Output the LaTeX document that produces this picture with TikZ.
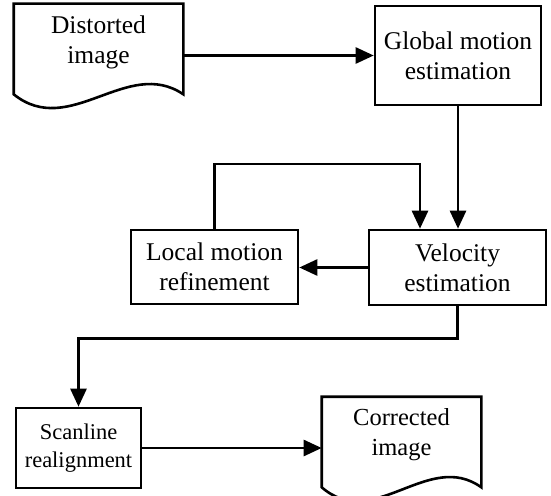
\documentclass[tikz,border=0pt]{standalone}
\usepackage{fontspec}
\setmainfont{Liberation Serif}
\usetikzlibrary{arrows.meta,calc}
\begin{document}
\begin{tikzpicture}[x=1pt,y=1pt,
  line width=2.6pt,
  boxnode/.style={draw, rectangle, inner sep=0pt, align=center, font=\fontsize{25.5pt}{30pt}\selectfont},
  docnode/.style={rectangle, inner sep=0pt},
  txt/.style={inner sep=0pt, align=center, font=\fontsize{25.5pt}{30pt}\selectfont},
  arr/.style={-{Triangle[length=18pt,width=16pt]}},
  line join=miter]
\useasboundingbox (0,0) rectangle (551,-495);
% Distorted image (document shape)
\node[docnode, minimum width=167pt, minimum height=88pt] (dist) at (98.5,-49) {};
\node[txt] (distT) at (98.5,-42) {Distorted\\image};
\draw (dist.south east) .. controls ($(dist.south east)+(-56,38)$) and ($(dist.south west)+(56,-45)$) .. (dist.south west)
      -- (dist.north west) -- (dist.north east) -- cycle;
% Global motion estimation
\node[boxnode, minimum width=166pt, minimum height=99pt] (glob) at (458,-55.5) {Global motion\\estimation};
% Velocity estimation
\node[boxnode, minimum width=177pt, minimum height=75pt] (vel) at (457.5,-267.5) {Velocity\\estimation};
% Local motion refinement
\node[boxnode, minimum width=167pt, minimum height=74pt] (loc) at (214.5,-267) {Local motion\\refinement};
% Scanline realignment
\node[boxnode, minimum width=125pt, minimum height=80pt, font=\fontsize{22.5pt}{28pt}\selectfont] (scan) at (78.5,-448) {Scanline\\realignment};
% Corrected image (document shape)
\node[docnode, minimum width=157pt, minimum height=88pt] (corr) at (401.5,-442) {};
\node[txt, font=\fontsize{24.5pt}{30pt}\selectfont] (corrT) at (401.5,-435) {Corrected\\image};
\draw (corr.south east) .. controls ($(corr.south east)+(-53,38)$) and ($(corr.south west)+(52,-45)$) .. (corr.south west)
      -- (corr.north west) -- (corr.north east) -- cycle;
% connectors
\coordinate (fb) at (420,-164);
\draw[arr] (dist.east |- glob.west) -- (glob.west);
\draw[arr] (glob.south) -- (glob.south |- vel.north);
\draw[arr] (vel.west) -- (vel.west -| loc.east);
\draw[arr] (loc.north) |- (fb) -- (fb |- vel.north);
\draw[arr] (vel.south) -- ++(0,-32) -| (scan.north);
\draw[arr] (scan.east) -- (scan.east -| corr.west);
\end{tikzpicture}
\end{document}
